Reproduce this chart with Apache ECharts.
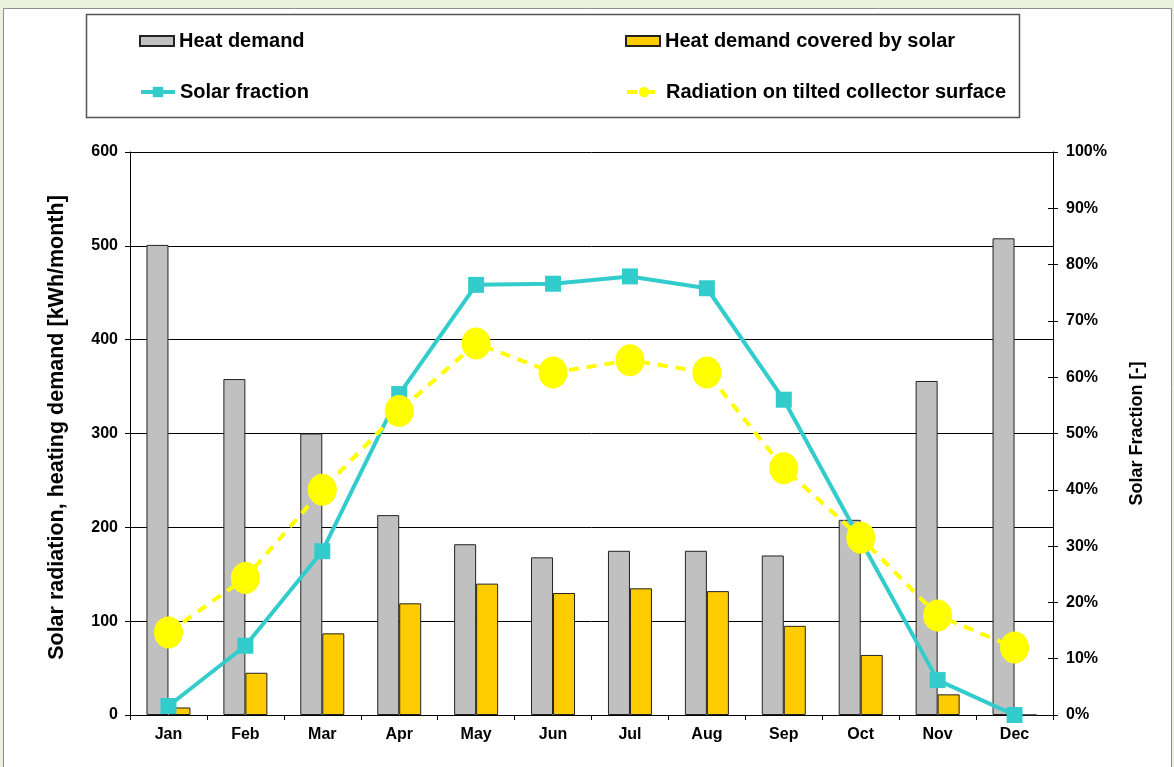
<!DOCTYPE html>
<html>
<head>
<meta charset="utf-8">
<script src="https://cdn.jsdelivr.net/npm/echarts@6/dist/echarts.min.js"></script>
<style>
  html, body { margin: 0; padding: 0; background: #ebf1de; }
  #chart { width: 1174px; height: 767px; }
</style>
</head>
<body>
<div id="chart"></div>
<script>
// values
var months = ['Jan', 'Feb', 'Mar', 'Apr', 'May', 'Jun', 'Jul', 'Aug', 'Sep', 'Oct', 'Nov', 'Dec']
var heatDemand = [501, 358, 300, 213, 182, 168, 175, 175, 170, 208, 356, 508]
var coveredBySolar = [8, 45, 87, 119, 140, 130, 135, 132, 95, 64, 22, 0]
var solarFraction = [0.016, 0.123, 0.291, 0.57, 0.764, 0.766, 0.779, 0.758, 0.56, 0.31, 0.062, 0]
var radiation = [88, 146, 240, 324, 396, 365, 378, 365, 263, 189, 106, 72]

var leftTicks = { min: 0, max: 600, interval: 100 }
var rightTicks = { min: 0, max: 1, interval: 0.1 }

var font = 'Liberation Sans, Arial, sans-serif'
var chart = echarts.init(document.getElementById('chart'))

var labelStyle = { color: '#000', fontSize: 16, fontWeight: 'bold', fontFamily: font }
var legendText = { color: '#000', fontSize: 20, fontWeight: 'bold', fontFamily: font }

// one legend per cell of the 2x2 legend box
function legendCell(name, left, top, isLine) {
  return {
    left: left,
    top: top,
    padding: 0,
    itemWidth: 34,
    itemHeight: isLine ? 13 : 10,
    textStyle: legendText,
    data: [isLine ? { name: name, lineStyle: { width: 4 } } : { name: name, icon: 'rect' }]
  }
}

var option = {
  backgroundColor: '#ebf1de',
  animation: false,
  textStyle: { fontFamily: font },
  graphic: [
    {
      // white chart area with thin frame
      type: 'rect',
      z: -10,
      silent: true,
      shape: { x: 3.5, y: 8.5, width: 1168, height: 770 },
      style: { fill: '#fff', stroke: '#8c8c8c', lineWidth: 1 }
    },
    {
      // legend box
      type: 'rect',
      z: -5,
      silent: true,
      shape: { x: 86.5, y: 14.5, width: 933, height: 103 },
      style: { fill: '#fff', stroke: '#555', lineWidth: 1.5 }
    }
  ],
  legend: [
    legendCell('Heat demand', 139, 31, false),
    legendCell('Solar fraction', 139, 82, true),
    legendCell('Heat demand covered by solar', 625, 31, false),
    legendCell('Radiation on tilted collector surface', 625, 82, true)
  ],
  grid: { left: 130, right: 121, top: 152, bottom: 52 },
  xAxis: {
    type: 'category',
    data: months,
    axisLine: { lineStyle: { color: '#000', width: 1 } },
    axisTick: { show: true, length: 5, lineStyle: { color: '#000' } },
    axisLabel: Object.assign({ margin: 12 }, labelStyle)
  },
  yAxis: [
    {
      type: 'value',
      min: leftTicks.min,
      max: leftTicks.max,
      interval: leftTicks.interval,
      name: 'Solar radiation, heating demand [kWh/month]',
      nameLocation: 'middle',
      nameGap: 62,
      nameTextStyle: { color: '#000', fontSize: 21.5, fontWeight: 'bold', fontFamily: font, padding: [0, 0, 0, 12] },
      axisLine: { show: true, lineStyle: { color: '#000' } },
      axisTick: { show: true, length: 5, lineStyle: { color: '#000' } },
      axisLabel: Object.assign({ margin: 12 }, labelStyle),
      splitLine: { show: true, lineStyle: { color: '#000', width: 1 } }
    },
    {
      type: 'value',
      position: 'right',
      min: rightTicks.min,
      max: rightTicks.max,
      interval: rightTicks.interval,
      name: 'Solar Fraction [-]',
      nameLocation: 'middle',
      nameGap: 75,
      nameRotate: 90,
      nameTextStyle: { color: '#000', fontSize: 18, fontWeight: 'bold', fontFamily: font },
      axisLine: { show: true, lineStyle: { color: '#000' } },
      axisTick: { show: true, length: 5, lineStyle: { color: '#000' } },
      axisLabel: Object.assign({
        margin: 13,
        formatter: function (v) { return Math.round(v * 100) + '%' }
      }, labelStyle),
      splitLine: { show: false }
    },
    {
      // inner half of the crossing ticks on the right axis
      type: 'value',
      position: 'right',
      min: rightTicks.min,
      max: rightTicks.max,
      interval: rightTicks.interval,
      axisLine: { show: false },
      axisTick: { show: true, inside: true, length: 5, lineStyle: { color: '#000' } },
      axisLabel: { show: false },
      splitLine: { show: false }
    }
  ],
  series: [
    {
      name: 'Heat demand',
      type: 'bar',
      data: heatDemand,
      barWidth: 22,
      barGap: '0%',
      itemStyle: { color: '#c0c0c0', borderColor: '#222', borderWidth: 1 },
      z: 2
    },
    {
      name: 'Heat demand covered by solar',
      type: 'bar',
      data: coveredBySolar,
      barWidth: 22,
      itemStyle: { color: '#ffcc00', borderColor: '#222', borderWidth: 1 },
      z: 2
    },
    {
      name: 'Solar fraction',
      type: 'line',
      yAxisIndex: 1,
      data: solarFraction,
      symbol: 'rect',
      symbolSize: 16,
      lineStyle: { color: '#33cccc', width: 4 },
      itemStyle: { color: '#33cccc' },
      z: 3
    },
    {
      name: 'Radiation on tilted collector surface',
      type: 'line',
      data: radiation,
      symbol: 'circle',
      symbolSize: [29, 32],
      lineStyle: { color: '#ffff00', width: 4, type: [10, 8] },
      itemStyle: { color: '#ffff00' },
      z: 4
    }
  ]
}
chart.setOption(option)
</script>
</body>
</html>
